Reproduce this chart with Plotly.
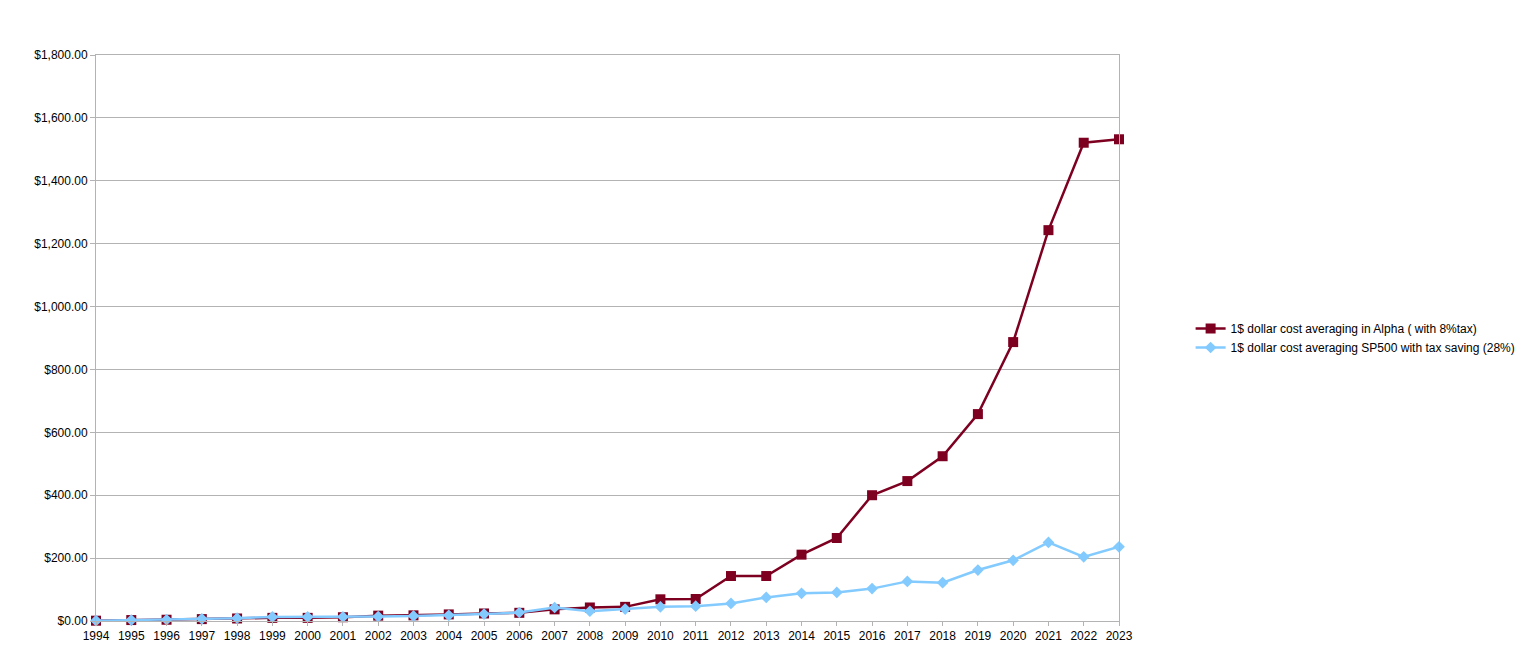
import plotly.graph_objects as go

years = list(range(1994, 2024))
alpha = [1, 3, 4, 6, 8, 10, 10, 12, 17, 18, 21, 24, 26, 37, 43, 45, 69, 70, 143, 143,
         211, 264, 400, 445, 524, 658, 887, 1243, 1521, 1532]
sp500 = [1, 3, 4, 7, 9, 13, 13, 13, 14, 16, 18, 22, 27, 43, 31, 38, 45, 47, 56, 75,
         88, 91, 103, 126, 122, 162, 193, 250, 204, 236]
names = ["1$ dollar cost averaging in Alpha ( with 8%tax)",
         "1$ dollar cost averaging SP500 with tax saving (28%)"]

fig = go.Figure()
fig.add_trace(go.Scatter(x=years, y=alpha, name=names[0], mode="lines+markers",
                         line=dict(color="#7e0021", width=2.5),
                         marker=dict(symbol="square", size=10, color="#7e0021"),
                         cliponaxis=False))
fig.add_trace(go.Scatter(x=years, y=sp500, name=names[1], mode="lines+markers",
                         line=dict(color="#83caff", width=2.5),
                         marker=dict(symbol="diamond", size=9, color="#83caff"),
                         cliponaxis=False))

fig.update_layout(
    width=1521, height=659,
    margin=dict(l=88, r=410, t=47, b=46, autoexpand=False),
    paper_bgcolor="white", plot_bgcolor="white",
    font=dict(family="Liberation Sans, Arial, sans-serif", size=12, color="black"),
    legend=dict(x=1.07, y=0.5, xanchor="left", yanchor="middle",
                font=dict(size=12), tracegroupgap=0, itemwidth=30),
    showlegend=True,
)
fig.update_xaxes(range=[1994, 2023], tickmode="array", tickvals=years,
                 ticktext=[str(y) for y in years], automargin=False,
                 showgrid=False, showline=True, linecolor="#b3b3b3", linewidth=1,
                 mirror=True, ticks="outside", ticklen=4, tickcolor="#b3b3b3",
                 zeroline=False, tickangle=0)
fig.update_yaxes(range=[0, 1800], dtick=200, tickformat="$,.2f", automargin=False,
                 showgrid=True, gridcolor="#b3b3b3", gridwidth=1,
                 showline=True, linecolor="#b3b3b3", linewidth=1, mirror=True,
                 ticks="outside", ticklen=5, tickcolor="#b3b3b3", zeroline=False)

fig.write_html("out.html")
